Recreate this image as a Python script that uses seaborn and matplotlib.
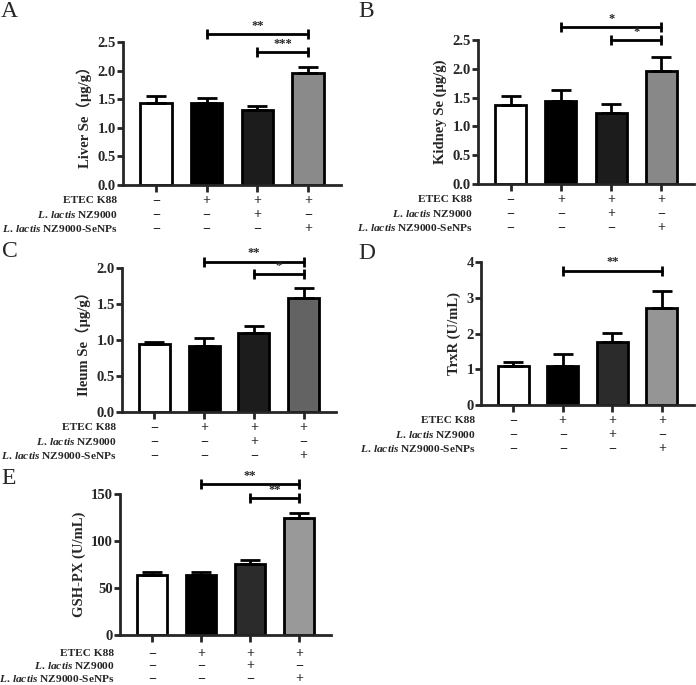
import numpy as np
import pandas as pd
import matplotlib
matplotlib.use("Agg")
import matplotlib.pyplot as plt
import seaborn as sns

sns.set_style("ticks")
plt.rcParams['font.family'] = ['Liberation Serif', 'Noto Sans CJK SC']
plt.rcParams['font.weight'] = 'bold'
plt.rcParams['mathtext.fontset'] = 'custom'
plt.rcParams['mathtext.it'] = 'Liberation Serif:italic:bold'
plt.rcParams['mathtext.rm'] = 'Liberation Serif:bold'

# groups and treatment table
groups = ['Control', 'ETEC K88', 'ETEC+NZ9000', 'ETEC+NZ9000-SeNPs']
row_labels = ['ETEC K88', r'$\mathit{L.\,lactis}$ NZ9000', r'$\mathit{L.\,lactis}$ NZ9000-SeNPs']
etec = ['\u2212', '+', '+', '+']
nz9000 = ['\u2212', '\u2212', '+', '\u2212']
senps = ['\u2212', '\u2212', '\u2212', '+']

# values (mean, upper error)
liver_mean = [1.43, 1.44, 1.31, 1.96]
liver_err = [0.13, 0.08, 0.07, 0.10]
kidney_mean = [1.37, 1.44, 1.24, 1.96]
kidney_err = [0.15, 0.19, 0.15, 0.25]
ileum_mean = [0.95, 0.92, 1.10, 1.58]
ileum_err = [0.02, 0.11, 0.10, 0.14]
trxr_mean = [1.10, 1.10, 1.75, 2.72]
trxr_err = [0.10, 0.32, 0.27, 0.47]
gsh_mean = [63.5, 63.5, 75.5, 124.0]
gsh_err = [3.5, 3.5, 4.5, 6.0]

# significance brackets: (from, to, height, label)
liver_sig = [(1, 3, 2.64, '**'), (2, 3, 2.33, '***')]
kidney_sig = [(1, 3, 2.72, '*'), (2, 3, 2.50, '*')]
ileum_sig = [(1, 3, 2.09, '**'), (2, 3, 1.91, '*')]
trxr_sig = [(1, 3, 3.76, '**')]
gsh_sig = [(1, 3, 161, '**'), (2, 3, 146, '**')]

W, H = 696, 685
fig = plt.figure(figsize=(W / 100, H / 100), dpi=100)


def px_axes(l, r, t, b):
    return fig.add_axes([l / W, 1 - b / H, (r - l) / W, (b - t) / H])


def panel(box, letter, letter_xy, means, errs, sig, colors, ylabel, ymax, yticks, fmt, row_dy):
    ax = px_axes(*box)
    df = pd.DataFrame({'group': groups, 'value': means})
    sns.barplot(data=df, x='group', y='value', hue='group', palette=colors,
                edgecolor='black', linewidth=2, width=0.62, legend=False, ax=ax)
    ax.errorbar(range(4), means, yerr=[np.zeros(4), errs], fmt='none',
                ecolor='black', elinewidth=2, capsize=7.5, capthick=2, zorder=5)
    ax.set_xlim(-0.65, 3.65)
    ax.set_ylim(0, ymax)
    ax.set_yticks(yticks)
    ax.set_yticklabels([fmt.format(v) for v in yticks], fontsize=10.5, fontweight='bold')
    ax.set_xticks(range(4))
    ax.set_xticklabels([])
    ax.set_xlabel('')
    ax.set_ylabel(ylabel, fontsize=10.5, fontweight='bold', labelpad=4)
    ax.tick_params(axis='y', length=4, width=2, pad=1)
    ax.tick_params(axis='x', length=5, width=2)
    for s in ['left', 'bottom']:
        ax.spines[s].set_linewidth(2)
    sns.despine(ax=ax)

    for i, j, y, lab in sig:
        ax.plot([i, j], [y, y], color='black', lw=2, marker='|', ms=7, mew=2, clip_on=False)
        ax.annotate(lab, xy=((i + j) / 2, y), xytext=(0, 1.5), textcoords='offset points',
                    ha='center', va='bottom', fontsize=9, fontweight='bold',
                    annotation_clip=False)

    for row, (label, vals) in enumerate(zip(row_labels, [etec, nz9000, senps])):
        dy = row_dy[row]
        ax.annotate(label, xy=(0, 0), xycoords='axes fraction',
                    xytext=(-4, -dy), textcoords='offset points',
                    ha='right', va='center', fontsize=8.2, fontweight='bold')
        for k, v in enumerate(vals):
            ax.annotate(v, xy=(k, 0), xycoords=('data', 'axes fraction'),
                        xytext=(0, -dy), textcoords='offset points',
                        ha='center', va='center', fontsize=10, fontweight='bold')

    fig.text(letter_xy[0] / W, 1 - letter_xy[1] / H, letter, fontsize=17,
             fontweight='normal', va='top', ha='left')
    return ax


rows_std = [11, 21.5, 31.5]
panel((123, 341, 42, 185), 'A', (1, 1), liver_mean, liver_err, liver_sig,
      ['white', 'black', '#1c1c1c', '#8a8a8a'], 'Liver Se\uff08\u03bcg/g\uff09',
      2.5, [0, 0.5, 1.0, 1.5, 2.0, 2.5], '{:.1f}', rows_std)
panel((478, 694, 40, 184), 'B', (358, 1), kidney_mean, kidney_err, kidney_sig,
      ['white', 'black', '#1c1c1c', '#888888'], 'Kidney Se (\u03bcg/g)',
      2.5, [0, 0.5, 1.0, 1.5, 2.0, 2.5], '{:.1f}', rows_std)
panel((122, 336, 268, 412), 'C', (2, 241), ileum_mean, ileum_err, ileum_sig,
      ['white', 'black', '#1c1c1c', '#636363'], 'Ileum Se\uff08\u03bcg/g\uff09',
      2.0, [0, 0.5, 1.0, 1.5, 2.0], '{:.1f}', rows_std)
panel((481, 694, 262, 405), 'D', (358, 243), trxr_mean, trxr_err, trxr_sig,
      ['white', 'black', '#2b2b2b', '#959595'], 'TrxR (U/mL)',
      4, [0, 1, 2, 3, 4], '{:.0f}', rows_std)
panel((120, 331, 494, 635), 'E', (1, 468), gsh_mean, gsh_err, gsh_sig,
      ['white', 'black', '#2b2b2b', '#999999'], 'GSH-PX (U/mL)',
      150, [0, 50, 100, 150], '{:.0f}', [13, 22, 31])

fig.savefig('out.png', dpi=100)
